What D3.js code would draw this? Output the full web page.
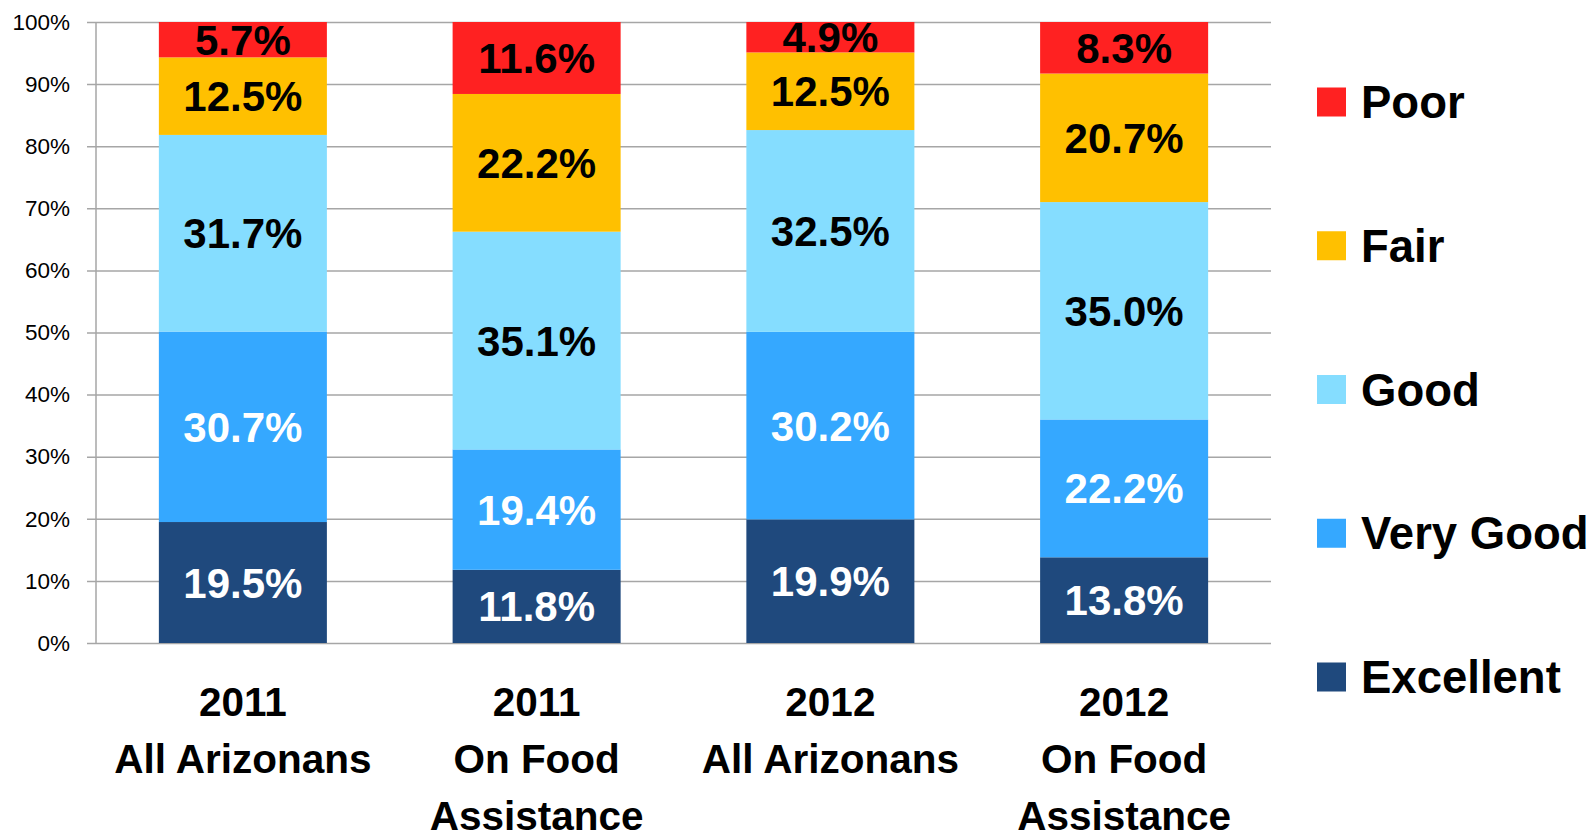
<!DOCTYPE html>
<html>
<head>
<meta charset="utf-8">
<style>
  body { margin: 0; background: #fff; }
  svg { display: block; }
</style>
</head>
<body>
<div id="chart"></div>
<script src="https://d3js.org/d3.v7.min.js"></script>
<script>
// data
var groups = ["2011|All Arizonans", "2011|On Food|Assistance", "2012|All Arizonans", "2012|On Food|Assistance"];
var ratings = ["Excellent", "Very Good", "Good", "Fair", "Poor"];
var excellent = [19.5, 11.8, 19.9, 13.8];
var veryGood  = [30.7, 19.4, 30.2, 22.2];
var good      = [31.7, 35.1, 32.5, 35.0];
var fair      = [12.5, 22.2, 12.5, 20.7];
var poor      = [5.7, 11.6, 4.9, 8.3];
var colors = ["#1f497d", "#35a8ff", "#85ddff", "#ffc000", "#ff2121"];
var labelColors = ["#fff", "#fff", "#000", "#000", "#000"];
var tickValues = [0, 0.1, 0.2, 0.3, 0.4, 0.5, 0.6, 0.7, 0.8, 0.9, 1];

var W = 1596, H = 839;
var plot = {left: 96, right: 1271, top: 22, bottom: 643};
var font = "'Liberation Sans', Arial, sans-serif";

var series = [excellent, veryGood, good, fair, poor];
var rows = groups.map(function(g, i) {
  var r = {group: g};
  var total = d3.sum(series, function(s) { return s[i]; });
  ratings.forEach(function(k, j) { r[k] = series[j][i] / total; r[k + "_raw"] = series[j][i]; });
  return r;
});
var stacked = d3.stack().keys(ratings)(rows);

var svg = d3.select("#chart").append("svg").attr("width", W).attr("height", H);

var x = d3.scaleBand().domain(groups).range([plot.left, plot.right])
  .paddingInner(0.428).paddingOuter(0.214);
var y = d3.scaleLinear().domain([0, 1]).range([plot.bottom, plot.top]);

// gridlines + ticks
var yAxis = svg.append("g").attr("transform", "translate(" + plot.left + ",0)")
  .call(d3.axisLeft(y).tickValues(tickValues).tickFormat(d3.format(".0%"))
    .tickSize(-(plot.right - plot.left)).tickPadding(26));
yAxis.select(".domain").remove();
yAxis.selectAll(".tick line").attr("stroke", "#a6a6a6").attr("stroke-width", 1.5).attr("x1", -9);
yAxis.selectAll(".tick text").attr("font-family", font)
  .attr("font-size", 22.5).attr("fill", "#000");
svg.append("line").attr("x1", plot.left).attr("x2", plot.left)
  .attr("y1", plot.top).attr("y2", plot.bottom)
  .attr("stroke", "#a6a6a6").attr("stroke-width", 1.5);

// bars
var layer = svg.selectAll(".layer").data(stacked).enter().append("g")
  .attr("fill", function(d, i) { return colors[i]; });
layer.selectAll("rect").data(function(d) { return d; }).enter().append("rect")
  .attr("x", function(d) { return x(d.data.group); })
  .attr("width", x.bandwidth())
  .attr("y", function(d) { return y(d[1]); })
  .attr("height", function(d) { return y(d[0]) - y(d[1]); });

// value labels
stacked.forEach(function(s, i) {
  svg.append("g").selectAll("text").data(s).enter().append("text")
    .attr("x", function(d) { return x(d.data.group) + x.bandwidth() / 2; })
    .attr("y", function(d) { return (y(d[0]) + y(d[1])) / 2 + 15; })
    .attr("text-anchor", "middle")
    .attr("font-family", font).attr("font-weight", "bold").attr("font-size", 42)
    .attr("fill", labelColors[i])
    .text(function(d) { return d.data[s.key + "_raw"].toFixed(1) + "%"; });
});

// category labels
groups.forEach(function(g) {
  var t = svg.append("text").attr("text-anchor", "middle")
    .attr("font-family", font).attr("font-weight", "bold").attr("font-size", 40.5);
  g.split("|").forEach(function(line, k) {
    t.append("tspan").attr("x", x(g) + x.bandwidth() / 2).attr("y", 716 + k * 57).text(line);
  });
});

// legend, top to bottom: Poor .. Excellent
var legendOrder = ratings.slice().reverse();
var ly = d3.scalePoint().domain(legendOrder).range([102, 677]);
var leg = svg.selectAll(".leg").data(legendOrder).enter().append("g")
  .attr("transform", function(d) { return "translate(1317," + ly(d) + ")"; });
leg.append("rect").attr("x", 0).attr("y", -14.5).attr("width", 29).attr("height", 29)
  .attr("fill", function(d) { return colors[ratings.indexOf(d)]; });
leg.append("text").attr("x", 44).attr("y", 16)
  .attr("font-family", font).attr("font-weight", "bold").attr("font-size", 45.5)
  .text(function(d) { return d; });
</script>
</body>
</html>
